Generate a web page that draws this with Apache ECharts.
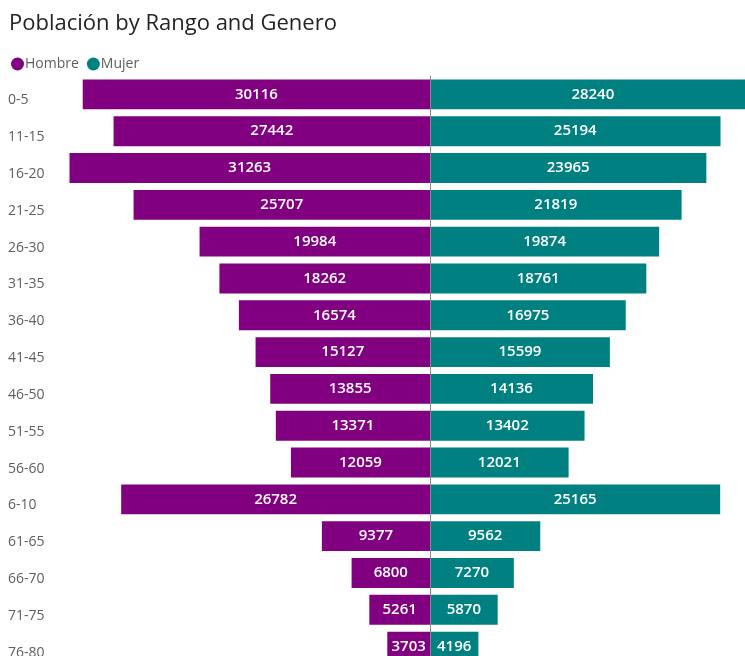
<!DOCTYPE html>
<html>
<head>
<meta charset="utf-8">
<script src="https://cdn.jsdelivr.net/npm/echarts@6/dist/echarts.min.js"></script>
<style>
  html, body { margin: 0; padding: 0; overflow: hidden; background: #fff; }
  #main { position: absolute; left: 0; top: 0; width: 820px; height: 680px; }
</style>
</head>
<body>
<div id="main"></div>
<script>
const rangos = ['0-5', '11-15', '16-20', '21-25', '26-30', '31-35', '36-40', '41-45',
  '46-50', '51-55', '56-60', '6-10', '61-65', '66-70', '71-75', '76-80'];
const hombre = [30116, 27442, 31263, 25707, 19984, 18262, 16574, 15127,
  13855, 13371, 12059, 26782, 9377, 6800, 5261, 3703];
const mujer = [28240, 25194, 23965, 21819, 19874, 18761, 16975, 15599,
  14136, 13402, 12021, 25165, 9562, 7270, 5870, 4196];

const chart = echarts.init(document.getElementById('main'));

const labelStyle = {
  show: true,
  position: 'inside',
  color: '#fff',
  fontSize: 15,
  fontWeight: 600,
  fontFamily: 'Open Sans',
  formatter: p => Math.abs(p.value)
};

chart.setOption({
  animation: false,
  title: {
    text: 'Población by Rango and Genero',
    left: 4, top: 8,
    textStyle: { fontFamily: 'Open Sans', fontSize: 22, fontWeight: 'normal', color: '#252423' }
  },
  legend: {
    left: 6, top: 52,
    icon: 'circle',
    itemWidth: 13, itemHeight: 13, itemGap: 8,
    textStyle: { fontFamily: 'Open Sans', fontSize: 14, color: '#605e5c', padding: [0, 0, 0, -4] },
    data: ['Hombre', 'Mujer']
  },
  grid: { left: 61, right: 21, top: 76, bottom: 15, containLabel: false },
  xAxis: {
    type: 'value', min: -32000, max: 32000, show: false
  },
  yAxis: {
    type: 'category',
    data: rangos,
    inverse: true,
    axisLine: { show: false, onZero: false },
    axisTick: { show: false },
    axisLabel: {
      align: 'left', margin: 53, color: '#605e5c', fontSize: 14, fontFamily: 'Open Sans',
      verticalAlign: 'top', lineHeight: 12
    }
  },
  series: [
    {
      name: 'Hombre', type: 'bar', stack: 'total',
      barWidth: '81%',
      itemStyle: { color: '#800080' },
      label: labelStyle,
      data: hombre.map(v => -v),
      markLine: {
        silent: true, symbol: 'none',
        label: { show: false },
        lineStyle: { color: '#8a8886', width: 1, type: 'solid' },
        data: [{ xAxis: 0 }]
      }
    },
    {
      name: 'Mujer', type: 'bar', stack: 'total',
      barWidth: '81%',
      itemStyle: { color: '#008080' },
      label: labelStyle,
      data: mujer
    }
  ]
});
</script>
</body>
</html>
